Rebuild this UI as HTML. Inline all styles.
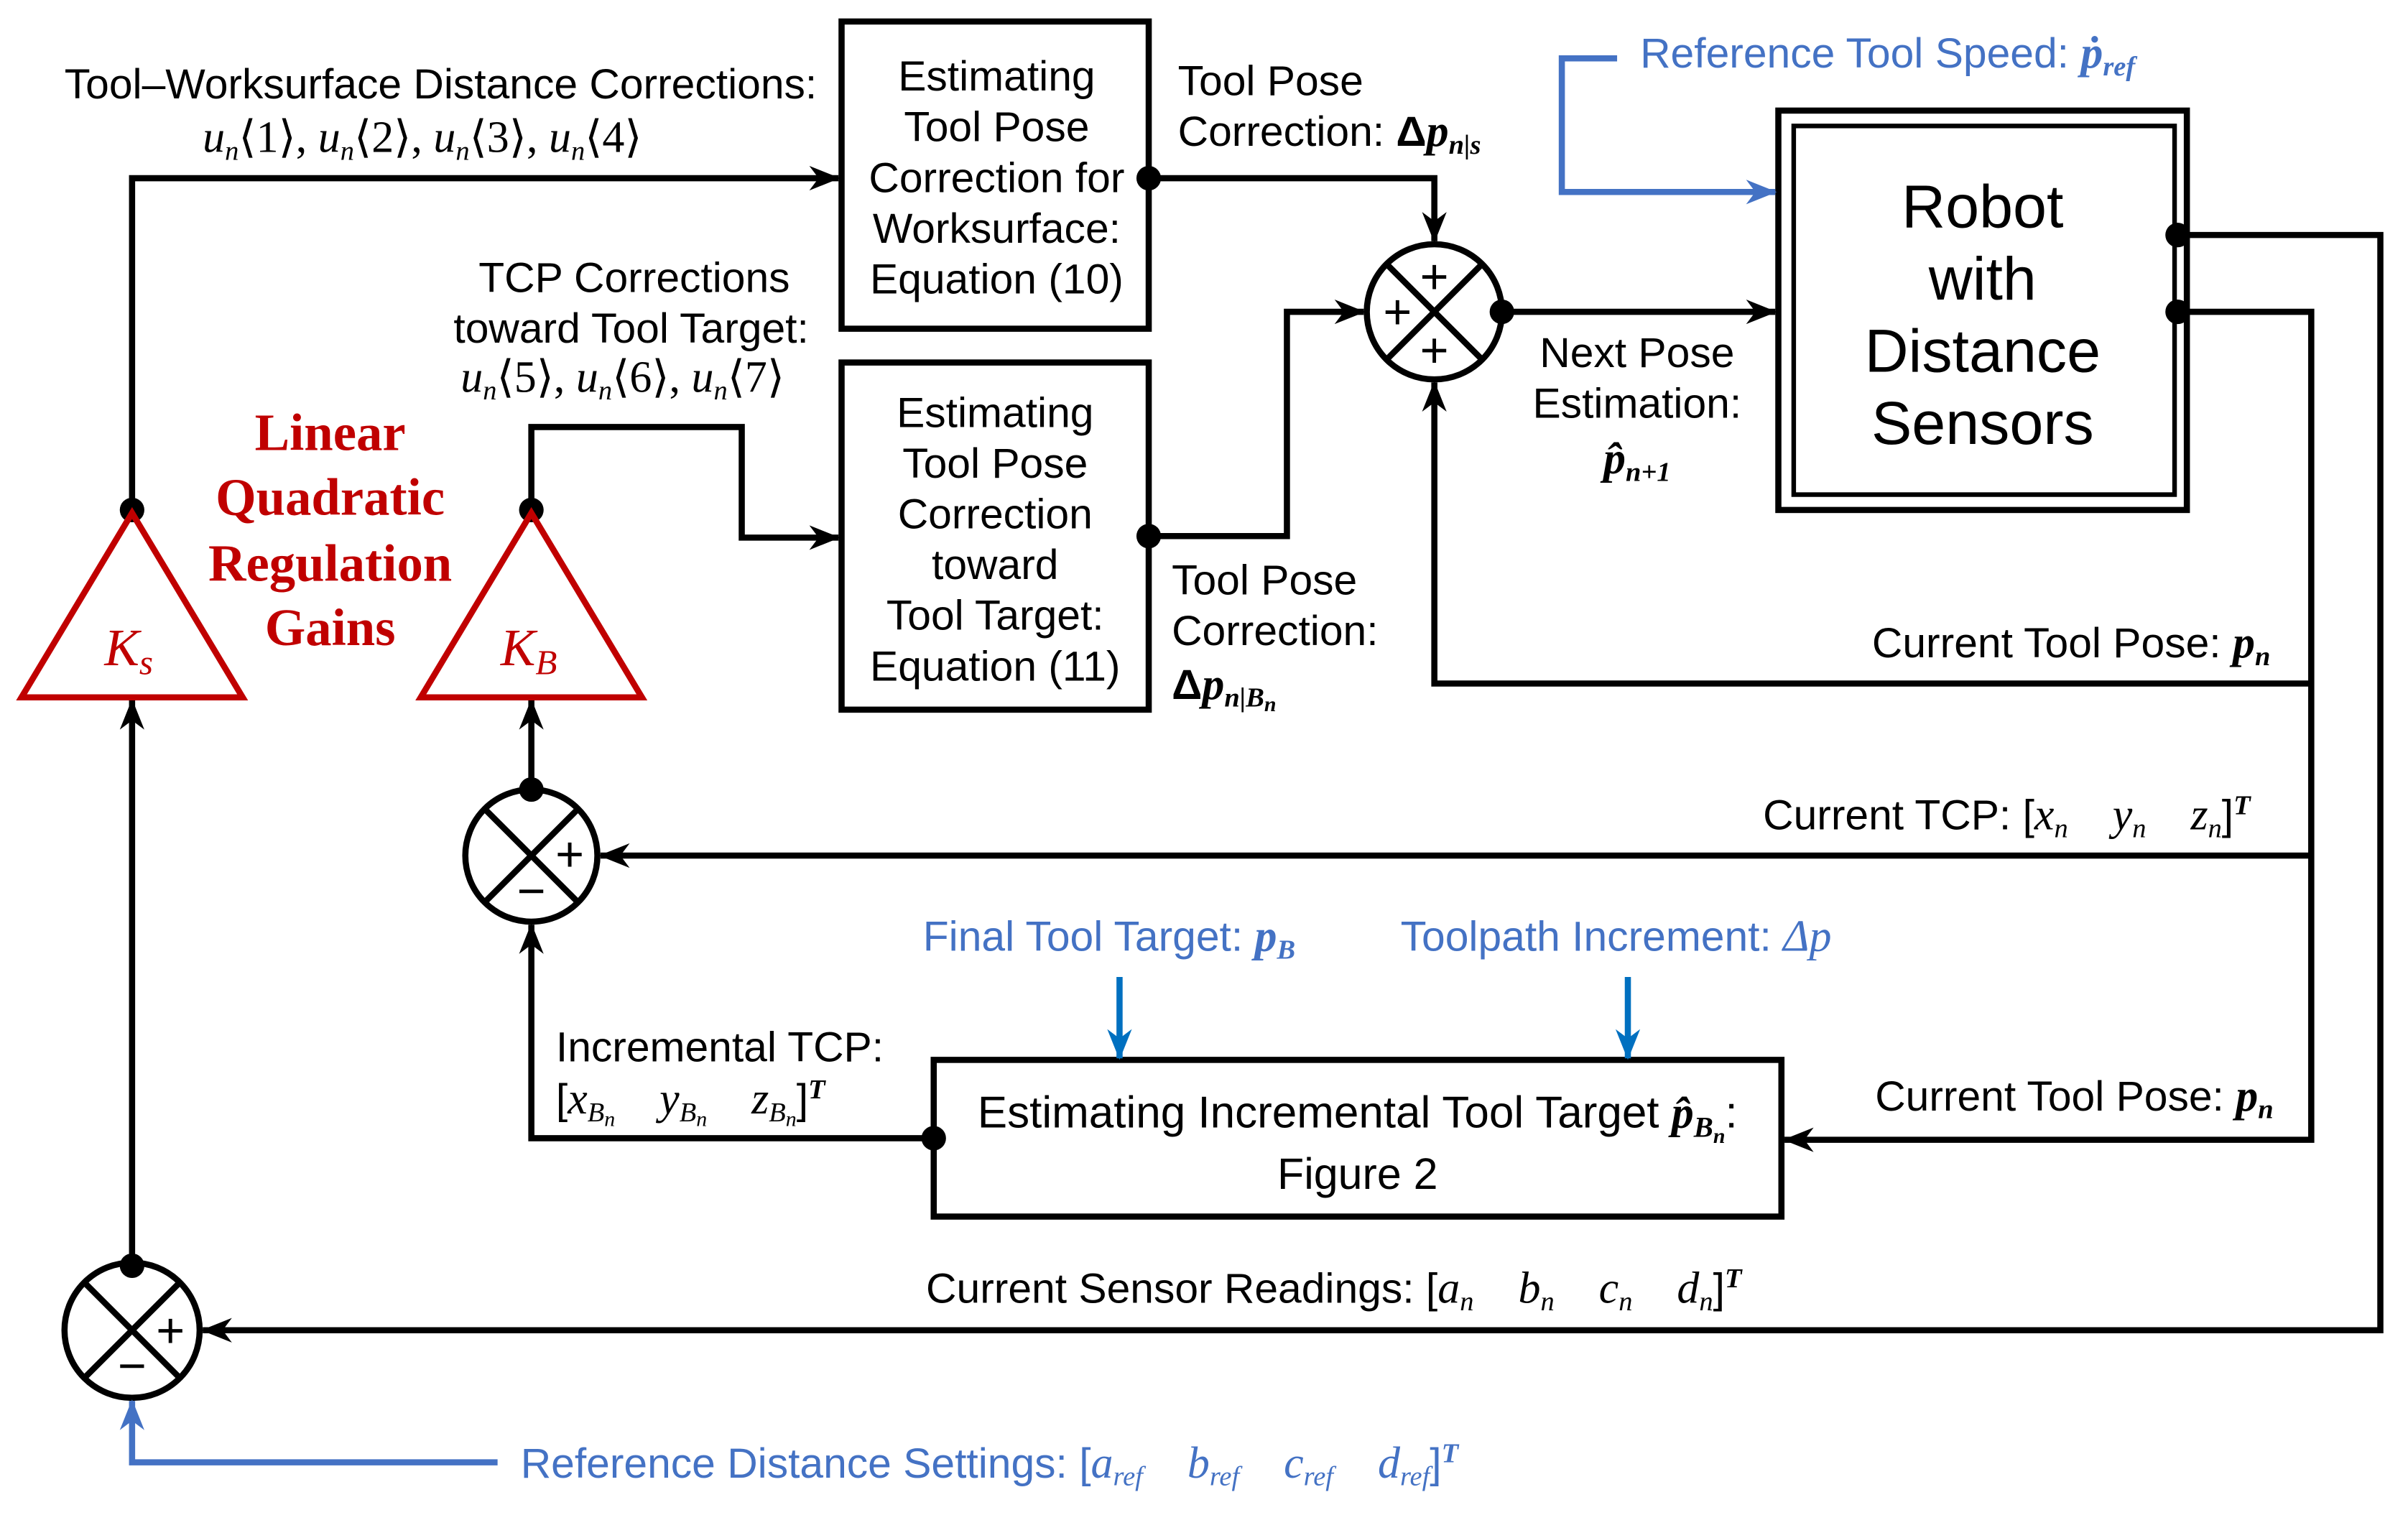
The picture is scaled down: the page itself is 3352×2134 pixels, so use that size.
<!DOCTYPE html>
<html><head><meta charset="utf-8"><style>
html,body{margin:0;padding:0;background:#fff;}
svg{display:block;}
text{font-family:"Liberation Sans",sans-serif;font-size:27.5px;fill:#000;white-space:pre;}
.m{font-family:"Liberation Serif",serif;font-style:italic;font-size:29px;}
.b{font-weight:bold;}
.blue{fill:#4472c4;}
.red{font-family:"Liberation Serif",serif;font-weight:bold;fill:#c00000;font-size:34px;}
.sup{font-family:"Liberation Serif",serif;font-style:italic;font-weight:bold;font-size:18px;}
</style></head><body>
<svg width="3352" height="2134" viewBox="0 0 1568 998" preserveAspectRatio="none" xmlns="http://www.w3.org/2000/svg" xml:space="preserve">
<defs>
<marker id="a" viewBox="0 0 20 16" refX="19" refY="8" markerWidth="20" markerHeight="16" markerUnits="userSpaceOnUse" orient="auto"><path d="M0,0 L20,8 L0,16 L6,8 Z" fill="#000"/></marker>
<marker id="ab" viewBox="0 0 20 16" refX="19" refY="8" markerWidth="22" markerHeight="16" markerUnits="userSpaceOnUse" orient="auto"><path d="M0,0 L20,8 L0,16 L6,8 Z" fill="#4472c4"/></marker>
<marker id="ab2" viewBox="0 0 20 16" refX="19" refY="8" markerWidth="22" markerHeight="16" markerUnits="userSpaceOnUse" orient="auto"><path d="M0,0 L20,8 L0,16 L6,8 Z" fill="#0070c0"/></marker>
</defs>
<g fill="none" stroke="#000" stroke-width="4">
<rect x="548" y="14" width="200" height="200"/>
<rect x="548" y="236" width="200" height="226"/>
<rect x="1158" y="72" width="266" height="260"/>
<rect x="1168" y="82" width="248" height="240" stroke-width="3"/>
<rect x="608" y="690" width="552" height="102"/>
<circle cx="934" cy="203" r="44"/>
<line x1="903" y1="172" x2="965" y2="234"/><line x1="965" y1="172" x2="903" y2="234"/>
<circle cx="346" cy="557" r="43"/>
<line x1="316" y1="527" x2="376" y2="587"/><line x1="376" y1="527" x2="316" y2="587"/>
<circle cx="86" cy="866" r="44"/>
<line x1="55" y1="835" x2="117" y2="897"/><line x1="117" y1="835" x2="55" y2="897"/>
<polyline points="86,332 86,116 546,116" marker-end="url(#a)"/>
<polyline points="346,332 346,278 483,278 483,350 546,350" marker-end="url(#a)"/>
<polyline points="748,116 934,116 934,157" marker-end="url(#a)"/>
<polyline points="748,349 838,349 838,203 888,203" marker-end="url(#a)"/>
<polyline points="978,203 1156,203" marker-end="url(#a)"/>
<polyline points="1418,153 1550,153 1550,866 132,866" marker-end="url(#a)"/>
<polyline points="1418,203 1505,203 1505,742 1162,742" marker-end="url(#a)"/>
<polyline points="1505,445 934,445 934,249" marker-end="url(#a)"/>
<polyline points="1505,557 391,557" marker-end="url(#a)"/>
<polyline points="86,824 86,456" marker-end="url(#a)"/>
<polyline points="346,514 346,456" marker-end="url(#a)"/>
<polyline points="608,741 346,741 346,602" marker-end="url(#a)"/>
</g>
<g fill="none" stroke="#4472c4" stroke-width="4">
<polyline points="1053,38 1017,38 1017,125 1156,125" marker-end="url(#ab)"/>
<polyline points="324,952 86,952 86,912" marker-end="url(#ab)"/>
</g>
<g fill="none" stroke="#0070c0" stroke-width="4">
<polyline points="729,636 729,689" marker-end="url(#ab2)"/>
<polyline points="1060,636 1060,689" marker-end="url(#ab2)"/>
</g>
<g fill="#000">
<circle cx="86" cy="332" r="8"/><circle cx="346" cy="332" r="8"/>
<circle cx="748" cy="116" r="8"/><circle cx="748" cy="349" r="8"/>
<circle cx="978" cy="203" r="8"/><circle cx="1418" cy="153" r="8"/><circle cx="1418" cy="203" r="8"/>
<circle cx="86" cy="824" r="8"/><circle cx="346" cy="514" r="8"/><circle cx="608" cy="741" r="8"/>
</g>
<g fill="none" stroke="#c00000" stroke-width="4">
<polygon points="86,334 158,454 14,454"/>
<polygon points="346,334 418,454 274,454"/>
</g>
<text x="68" y="433" class="m" style="fill:#c00000;font-size:34px">K<tspan font-size="23" dy="6">s</tspan></text>
<text x="326" y="433" class="m" style="fill:#c00000;font-size:34px">K<tspan font-size="23" dy="6">B</tspan></text>
<g text-anchor="middle">
<text x="215" y="293" class="red">Linear</text>
<text x="215" y="335" class="red">Quadratic</text>
<text x="215" y="378" class="red">Regulation</text>
<text x="215" y="420" class="red">Gains</text>
</g>
<g text-anchor="middle">
<text x="934" y="191" style="font-size:32px">+</text>
<text x="910" y="214" style="font-size:32px">+</text>
<text x="934" y="239" style="font-size:32px">+</text>
<text x="371" y="567" style="font-size:32px">+</text>
<text x="346" y="591" style="font-size:32px">−</text>
<text x="111" y="877" style="font-size:32px">+</text>
<text x="86" y="900" style="font-size:32px">−</text>
</g>
<g text-anchor="middle">
<text x="649" y="59">Estimating</text><text x="649" y="92">Tool Pose</text><text x="649" y="125">Correction for</text><text x="649" y="158">Worksurface:</text><text x="649" y="191">Equation (10)</text>
<text x="648" y="278">Estimating</text><text x="648" y="311">Tool Pose</text><text x="648" y="344">Correction</text><text x="648" y="377">toward</text><text x="648" y="410">Tool Target:</text><text x="648" y="443">Equation (11)</text>
<text x="1291" y="148" style="font-size:39.5px">Robot</text>
<text x="1291" y="195" style="font-size:39.5px">with</text>
<text x="1291" y="242" style="font-size:39.5px">Distance</text>
<text x="1291" y="289" style="font-size:39.5px">Sensors</text>
<text x="884" y="734" style="font-size:29px">Estimating Incremental Tool Target <tspan class="m b">p̂<tspan font-size="19" dy="6">B<tspan font-size="14" dy="4">n</tspan></tspan></tspan><tspan dy="-10">:</tspan></text>
<text x="884" y="774" style="font-size:28.5px">Figure 2</text>
<text x="413" y="190">TCP Corrections</text>
<text x="411" y="223">toward Tool Target:</text>
<text x="1066" y="239">Next Pose</text>
<text x="1066" y="272">Estimation:</text>
<text x="1066" y="308" class="m b">p̂<tspan font-size="18" dy="5">n+1</tspan></text>
</g>
<text x="42" y="64">Tool–Worksurface Distance Corrections:</text>
<text x="132" y="99" class="m">u<tspan font-size="18" dy="5">n</tspan><tspan dy="-5" font-style="normal">⟨1⟩, </tspan>u<tspan font-size="18" dy="5">n</tspan><tspan dy="-5" font-style="normal">⟨2⟩, </tspan>u<tspan font-size="18" dy="5">n</tspan><tspan dy="-5" font-style="normal">⟨3⟩, </tspan>u<tspan font-size="18" dy="5">n</tspan><tspan dy="-5" font-style="normal">⟨4⟩</tspan></text>
<text x="300" y="255" class="m">u<tspan font-size="18" dy="5">n</tspan><tspan dy="-5" font-style="normal">⟨5⟩, </tspan>u<tspan font-size="18" dy="5">n</tspan><tspan dy="-5" font-style="normal">⟨6⟩, </tspan>u<tspan font-size="18" dy="5">n</tspan><tspan dy="-5" font-style="normal">⟨7⟩</tspan></text>
<text x="767" y="62">Tool Pose</text>
<text x="767" y="95">Correction: <tspan class="b">Δ</tspan><tspan class="m b">p<tspan font-size="18" dy="5">n|s</tspan></tspan></text>
<text x="763" y="387">Tool Pose</text>
<text x="763" y="420">Correction:</text>
<text x="763" y="455" class="b">Δ<tspan class="m">p<tspan font-size="18" dy="5">n|B<tspan font-size="14" dy="3">n</tspan></tspan></tspan></text>
<text x="1068" y="44" class="blue">Reference Tool Speed: <tspan class="m b">ṗ<tspan font-size="18" dy="5">ref</tspan></tspan></text>
<text x="1219" y="428">Current Tool Pose: <tspan class="m b">p<tspan font-size="18" dy="5">n</tspan></tspan></text>
<text x="1148" y="540">Current TCP: [<tspan class="m">x<tspan font-size="18" dy="5">n</tspan><tspan dy="-5">    y</tspan><tspan font-size="18" dy="5">n</tspan><tspan dy="-5">    z</tspan><tspan font-size="18" dy="5">n</tspan></tspan><tspan dy="-5">]</tspan><tspan class="sup" dy="-10">T</tspan></text>
<text x="601" y="619" style="fill:#4472c4">Final Tool Target: <tspan class="m b">p<tspan font-size="18" dy="5">B</tspan></tspan></text>
<text x="912" y="619" style="fill:#4472c4">Toolpath Increment: <tspan class="m">Δp</tspan></text>
<text x="362" y="691">Incremental TCP:</text>
<text x="362" y="725">[<tspan class="m">x<tspan font-size="18" dy="5">B<tspan font-size="14" dy="3">n</tspan></tspan><tspan dy="-8">    y</tspan><tspan font-size="18" dy="5">B<tspan font-size="14" dy="3">n</tspan></tspan><tspan dy="-8">    z</tspan><tspan font-size="18" dy="5">B<tspan font-size="14" dy="3">n</tspan></tspan></tspan><tspan dy="-8">]</tspan><tspan class="sup" dy="-10">T</tspan></text>
<text x="1221" y="723">Current Tool Pose: <tspan class="m b">p<tspan font-size="18" dy="5">n</tspan></tspan></text>
<text x="603" y="848">Current Sensor Readings: [<tspan class="m">a<tspan font-size="18" dy="5">n</tspan><tspan dy="-5">    b</tspan><tspan font-size="18" dy="5">n</tspan><tspan dy="-5">    c</tspan><tspan font-size="18" dy="5">n</tspan><tspan dy="-5">    d</tspan><tspan font-size="18" dy="5">n</tspan></tspan><tspan dy="-5">]</tspan><tspan class="sup" dy="-10">T</tspan></text>
<text x="339" y="962" style="fill:#4472c4">Reference Distance Settings: [<tspan class="m">a<tspan font-size="18" dy="5">ref</tspan><tspan dy="-5">    b</tspan><tspan font-size="18" dy="5">ref</tspan><tspan dy="-5">    c</tspan><tspan font-size="18" dy="5">ref</tspan><tspan dy="-5">    d</tspan><tspan font-size="18" dy="5">ref</tspan></tspan><tspan dy="-5">]</tspan><tspan class="sup" dy="-10">T</tspan></text>
</svg>
</body></html>
